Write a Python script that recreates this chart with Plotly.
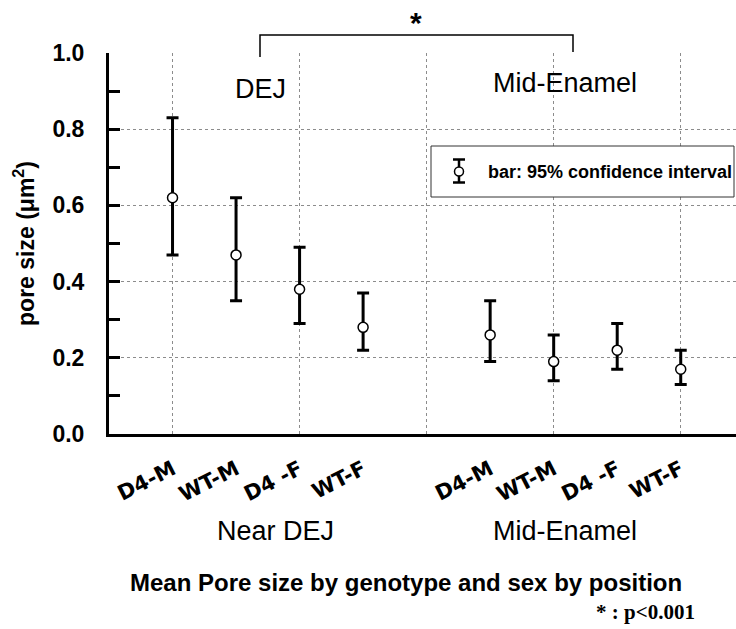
import plotly.graph_objects as go

# ---- data ----
genotype_sex = ["D4-M", "WT-M", "D4 -F", "WT-F"]
positions = ["Near DEJ", "Mid-Enamel"]
dej_mean = [0.62, 0.47, 0.38, 0.28]
dej_upper = [0.83, 0.62, 0.49, 0.37]
dej_lower = [0.47, 0.35, 0.29, 0.22]
mid_mean = [0.26, 0.19, 0.22, 0.17]
mid_upper = [0.35, 0.26, 0.29, 0.22]
mid_lower = [0.19, 0.14, 0.17, 0.13]
y_ticks = [0.0, 0.2, 0.4, 0.6, 0.8, 1.0]

# ---- layout geometry ----
W, H = 736, 629
ML, MR, MT, MB = 109, 0, 53, 195
PW, PH = W - ML - MR, H - MT - MB


def px(xp):
    return (xp - ML) / PW


def py(yp):
    return (H - MB - yp) / PH


FONT = "Liberation Sans, Arial, Helvetica, sans-serif"
HEAVY = "DejaVu Sans, Liberation Sans, sans-serif"

x_dej = list(range(len(genotype_sex)))
x_mid = [i + len(genotype_sex) + 1 for i in range(len(genotype_sex))]

fig = go.Figure()
for xs, m, up, lo in [(x_dej, dej_mean, dej_upper, dej_lower),
                      (x_mid, mid_mean, mid_upper, mid_lower)]:
    fig.add_trace(go.Scatter(
        x=xs, y=m, mode="markers", showlegend=False,
        marker=dict(symbol="circle", size=10, color="white",
                    line=dict(color="black", width=1.5)),
        error_y=dict(type="data", symmetric=False,
                     array=[u - v for u, v in zip(up, m)],
                     arrayminus=[v - l for v, l in zip(m, lo)],
                     color="black", thickness=3, width=6),
        xaxis="x", yaxis="y",
    ))

# invisible helper trace so the gridline axis is drawn
fig.add_trace(go.Scatter(x=[x_dej[0]], y=[None], xaxis="x2", yaxis="y",
                         showlegend=False, hoverinfo="skip"))

tick_x = x_dej + x_mid
tick_text = genotype_sex + genotype_sex

fig.update_layout(
    width=W, height=H,
    margin=dict(l=ML, r=MR, t=MT, b=MB, pad=0),
    paper_bgcolor="white", plot_bgcolor="white",
    font=dict(family=FONT, color="black"),
    xaxis=dict(
        range=[-1, 8.87], tickmode="array", tickvals=tick_x, ticktext=tick_text,
        tickangle=-27, tickfont=dict(size=21, family=HEAVY, weight="bold"),
        showgrid=False, zeroline=False, showline=True, linecolor="black",
        linewidth=3, ticks="", ticklabelstandoff=12,
    ),
    xaxis2=dict(
        overlaying="x", matches="x", range=[-1, 8.87],
        tickmode="linear", tick0=0, dtick=2, showticklabels=False,
        showgrid=True, gridcolor="#8c8c8c", griddash="dot", gridwidth=1,
        zeroline=False, showline=False, ticks="",
    ),
    yaxis=dict(
        range=[0, 1.0], tickmode="array", tickvals=y_ticks, tickformat=".1f",
        tickfont=dict(size=23, family=FONT, weight="bold"),
        ticks="inside", ticklen=11, tickwidth=3, tickcolor="black",
        showline=True, linecolor="black", linewidth=3,
        showgrid=True, gridcolor="#8c8c8c", griddash="dot", gridwidth=1,
        zeroline=False, ticklabelstandoff=17,
        minor=dict(tick0=0.1, dtick=0.2, ticks="inside", ticklen=11,
                   tickwidth=3, tickcolor="black", showgrid=False),
        title=dict(text="pore size (μm<sup>2</sup>)",
                   font=dict(size=23, family=FONT, weight="bold"), standoff=12),
    ),
)

shapes = []
# significance bracket
shapes.append(dict(type="path", xref="paper", yref="paper",
                   path=f"M {px(260)},{py(57)} L {px(260)},{py(35)} L {px(573)},{py(35)} L {px(573)},{py(52)}",
                   line=dict(color="black", width=1.5)))
# legend box
shapes.append(dict(type="rect", xref="paper", yref="paper",
                   x0=px(431), x1=px(734), y0=py(146), y1=py(197),
                   line=dict(color="#333333", width=1), fillcolor="white", layer="above"))
# legend icon: whisker
cx, cy = 459, 171.5
shapes.append(dict(type="line", xref="paper", yref="paper", x0=px(cx), x1=px(cx),
                   y0=py(159.5), y1=py(182.5), line=dict(color="black", width=2.5), layer="above"))
for yy in (159.5, 182.5):
    shapes.append(dict(type="line", xref="paper", yref="paper", x0=px(cx - 6), x1=px(cx + 6),
                       y0=py(yy), y1=py(yy), line=dict(color="black", width=2.5), layer="above"))
shapes.append(dict(type="circle", xref="paper", yref="paper", x0=px(cx - 4.5), x1=px(cx + 4.5),
                   y0=py(cy - 4.5), y1=py(cy + 4.5), fillcolor="white",
                   line=dict(color="black", width=1.5), layer="above"))

annotations = [
    dict(text="*", x=px(416), y=py(22), font=dict(size=30, weight="bold")),
    dict(text="DEJ", x=px(260), y=py(89), font=dict(size=27)),
    dict(text="Mid-Enamel", x=px(565), y=py(83), font=dict(size=27)),
    dict(text="bar: 95% confidence interval", x=px(486), y=py(172), xanchor="left",
         font=dict(size=18, weight="bold")),
    dict(text=positions[0], x=px(275), y=py(531), font=dict(size=27)),
    dict(text=positions[1], x=px(565), y=py(531), font=dict(size=27)),
    dict(text="Mean Pore size by genotype and sex by position", x=px(406), y=py(582),
         font=dict(size=24, weight="bold")),
    dict(text="* : p<0.001", x=px(645), y=py(612),
         font=dict(size=21, weight="bold", family="Liberation Serif, Times New Roman, serif")),
]
for a in annotations:
    a.setdefault("xanchor", "center")
    a.update(xref="paper", yref="paper", yanchor="middle", showarrow=False)
    a["font"].setdefault("family", FONT)
    a["font"].setdefault("color", "black")

fig.update_layout(shapes=shapes, annotations=annotations)
fig.write_html(
    "out.html",
    config={"displayModeBar": False},
    post_script="document.body.style.margin='0';document.body.style.padding='0';"
                "document.body.style.overflow='hidden';",
)
